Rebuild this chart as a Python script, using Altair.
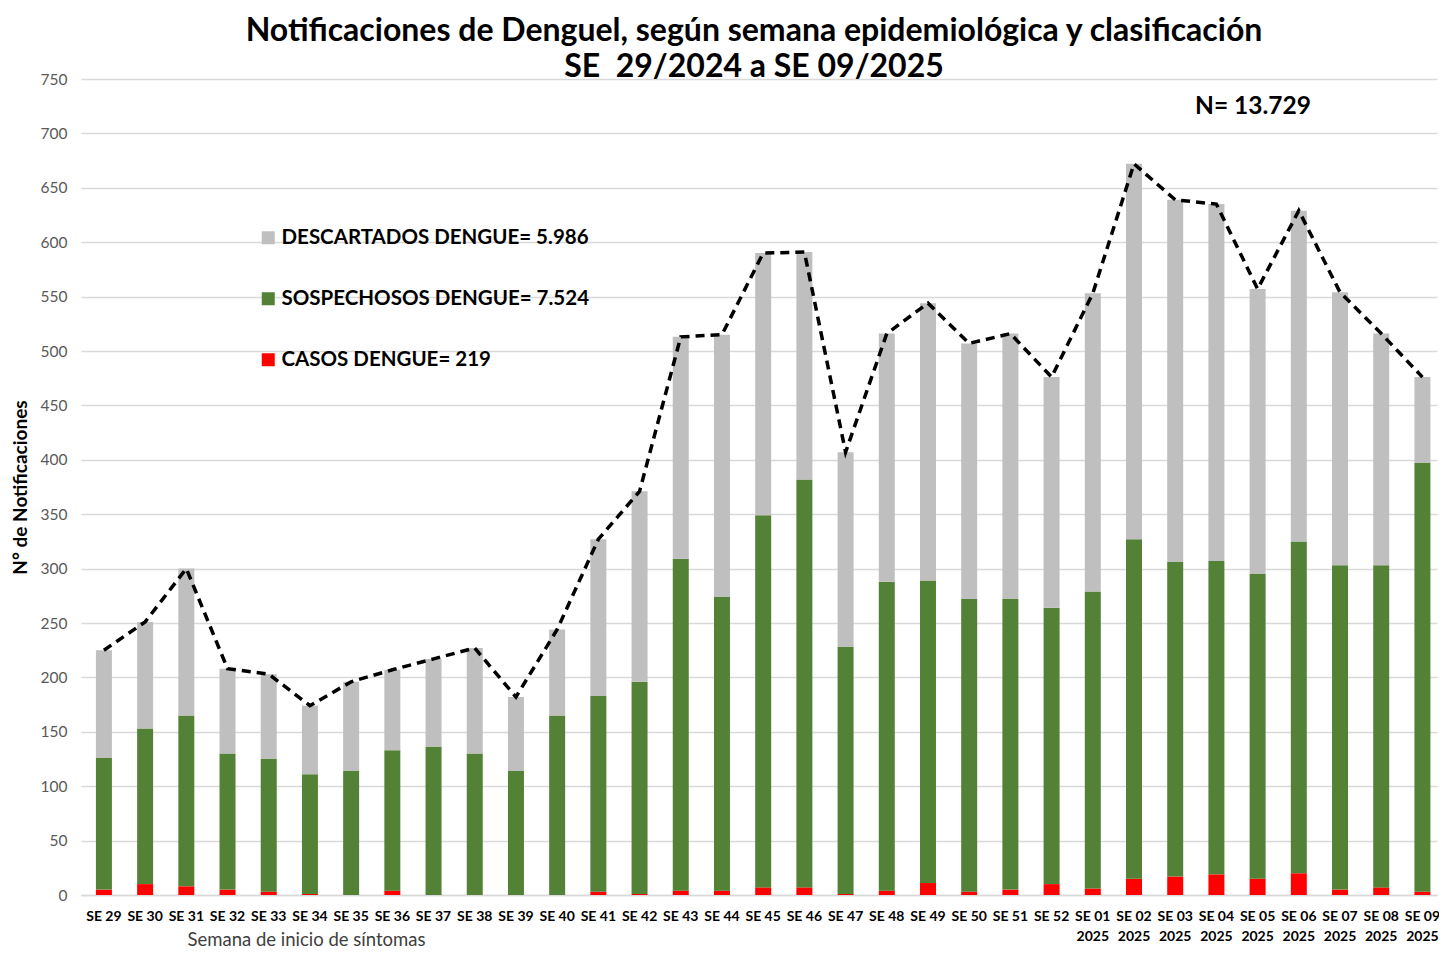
import altair as alt
import pandas as pd

weeks = ["SE 29", "SE 30", "SE 31", "SE 32", "SE 33", "SE 34", "SE 35", "SE 36", "SE 37", "SE 38",
         "SE 39", "SE 40", "SE 41", "SE 42", "SE 43", "SE 44", "SE 45", "SE 46", "SE 47", "SE 48",
         "SE 49", "SE 50", "SE 51", "SE 52", "SE 01 2025", "SE 02 2025", "SE 03 2025", "SE 04 2025",
         "SE 05 2025", "SE 06 2025", "SE 07 2025", "SE 08 2025", "SE 09 2025"]

casos = [5, 10, 8, 5, 3, 1, 0, 4, 0, 0, 0,
         0, 3, 1, 4, 4, 7, 7, 1, 4, 11, 3,
         5, 10, 6, 15, 17, 19, 15, 20, 5, 7, 3]
sospechosos = [121, 143, 157, 125, 122, 110, 114, 129, 136, 130, 114,
               165, 180, 195, 305, 270, 342, 375, 227, 284, 278, 269,
               267, 254, 273, 312, 289, 288, 280, 305, 298, 296, 394]
descartados = [99, 98, 135, 78, 78, 63, 82, 74, 81, 97, 68,
               79, 144, 175, 204, 241, 241, 209, 179, 228, 255, 235,
               244, 212, 274, 345, 333, 328, 262, 304, 251, 213, 79]

lab_desc = "DESCARTADOS DENGUE= 5.986"
lab_sosp = "SOSPECHOSOS DENGUE= 7.524"
lab_casos = "CASOS DENGUE= 219"
n_text = "N= 13.729"

title_lines = ["Notificaciones de Denguel, según semana epidemiológica y clasificación",
               "SE\u00a0 29/2024 a SE 09/2025"]

rows = []
for i, w in enumerate(weeks):
    rows.append({"semana": w, "clase": lab_casos, "orden": 0, "valor": casos[i]})
    rows.append({"semana": w, "clase": lab_sosp, "orden": 1, "valor": sospechosos[i]})
    rows.append({"semana": w, "clase": lab_desc, "orden": 2, "valor": descartados[i]})
df = pd.DataFrame(rows)
tot = pd.DataFrame({"semana": weeks,
                    "total": [c + s + d for c, s, d in zip(casos, sospechosos, descartados)]})
ndf = pd.DataFrame({"t": [n_text]})

FONT = "Lato"

x_scale = alt.Scale(paddingInner=0.612, paddingOuter=0.261, align=0.694, round=False)

x_enc = alt.X(
    "semana:N", sort=weeks, scale=x_scale,
    axis=alt.Axis(
        labelAngle=0, labelFont=FONT, labelFontWeight="bold", labelFontSize=14,
        labelColor="black", labelPadding=14, labelLineHeight=20, ticks=False,
        domainColor="#D9D9D9", domainWidth=1.5,
        labelExpr="length(datum.value) > 5 ? [substring(datum.value, 0, 5), substring(datum.value, 6)] : datum.value",
        title="Semana de inicio de síntomas", titleFont=FONT, titleFontWeight="normal",
        titleFontSize=18.5, titleColor="#404040", titleX=225, titleY=44,
        titleAlign="center", titleBaseline="middle",
    ),
)

y_scale = alt.Scale(domain=[0, 750], nice=False)

bars = alt.Chart(df).mark_bar().encode(
    x=x_enc,
    y=alt.Y("valor:Q", stack="zero", scale=y_scale,
            axis=alt.Axis(values=list(range(0, 751, 50)), grid=True, gridColor="#D9D9D9",
                          gridWidth=1.5, domain=False, ticks=False, labelFont=FONT,
                          labelFontSize=15.5, labelColor="#595959", labelPadding=14,
                          title="N° de Notificaciones", titleFont=FONT, titleFontSize=19,
                          titleFontWeight="bold", titleColor="black", titlePadding=10)),
    color=alt.Color("clase:N",
                    scale=alt.Scale(domain=[lab_desc, lab_sosp, lab_casos],
                                    range=["#BFBFBF", "#538135", "#FF0000"]),
                    legend=alt.Legend(orient="none", legendX=177, legendY=148.5, title=None,
                                      symbolType="square", symbolSize=169, symbolStrokeWidth=0,
                                      labelFont=FONT, labelFontSize=20.5, labelFontWeight="bold",
                                      labelColor="black", labelOffset=3, rowPadding=40,
                                      labelLimit=600, padding=0)),
    order=alt.Order("orden:Q"),
)

line = alt.Chart(tot).mark_line(color="black", strokeWidth=3.5, strokeDash=[9, 6]).encode(
    x=alt.X("semana:N", sort=weeks, scale=x_scale),
    y=alt.Y("total:Q", scale=y_scale),
)

ntxt = alt.Chart(ndf).mark_text(font=FONT, fontSize=24.5, fontWeight="bold", color="black").encode(
    text="t:N", x=alt.value(1172), y=alt.value(28)
)

chart = alt.layer(bars, line, ntxt).properties(
    width=1356, height=816,
    title=alt.TitleParams(text=title_lines, font=FONT, fontSize=32, fontWeight="bold",
                          color="black", anchor="middle", dx=-5, lineHeight=36, offset=-11.5),
    autosize=alt.AutoSizeParams(type="none"),
    padding={"left": 73, "top": 71, "right": 2, "bottom": 55},
).configure_view(stroke=None)

chart.save("out.html", embed_options={"renderer": "svg", "actions": False})
